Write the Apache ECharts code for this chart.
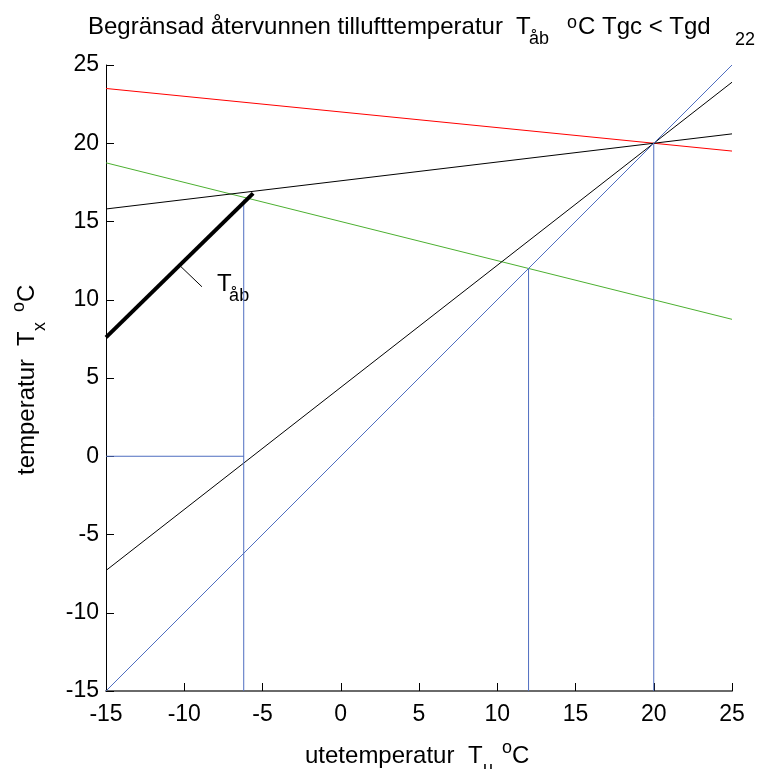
<!DOCTYPE html>
<html>
<head>
<meta charset="utf-8">
<script src="https://cdn.jsdelivr.net/npm/echarts@6/dist/echarts.min.js"></script>
<style>
  html, body { margin: 0; padding: 0; background: #fff; }
  #chart { width: 760px; height: 769px; }
</style>
</head>
<body>
<div id="chart"></div>
<script>
// Axis ranges (°C)
const xRange = [-15, 25];
const yRange = [-15, 25];
const tickStep = 5;

// Temperature lines as [Tu, Tx] end points
const redLine = [[-15, 23.5], [25, 19.5]];
const greenLine = [[-15, 18.75], [25, 8.75]];
const blackFlatLine = [[-15, 15.8], [25, 20.6]];
const blackSteepLine = [[-15, -7.3], [25, 23.9]];
const blueDiagonal = [[-15, -15], [25, 25]];
// Limited recovered supply air temperature T_åb
const tabLine = [[-15, 7.6], [-5.6, 16.8]];
// Blue guide lines
const guideVertA = [[-6.2, -15], [-6.2, 16.4]];
const guideHorizA = [[-15, 0], [-6.2, 0]];
const guideVert12 = [[12, -15], [12, 12]];
const guideVert20 = [[20, -15], [20, 20]];
// Leader from the T_åb line to its label
const leaderLine = [[-10.27, 12.17], [-8.87, 10.83]];
const tabLabelAnchor = [-7.9, 10.64];

const FONT = '"Liberation Sans", Arial, sans-serif';
const BLUE = '#4f6ec0';

function lineSeries(data, color, width, z) {
  return {
    type: 'line',
    data: data,
    showSymbol: false,
    symbol: 'none',
    lineStyle: { color: color, width: width },
    z: z || 2,
    silent: true,
    animation: false
  };
}

// Text placed by its alphabetic baseline
function txt(str, x, baseline, size) {
  return {
    type: 'text',
    x: x,
    y: baseline - 0.23 * size,
    style: {
      text: str,
      font: size + 'px ' + FONT,
      fill: '#000',
      textAlign: 'left',
      textVerticalAlign: 'middle',
      verticalAlign: 'middle'
    },
    silent: true
  };
}

const chart = echarts.init(document.getElementById('chart'), null, { renderer: 'canvas' });

const axisCommon = {
  type: 'value',
  interval: tickStep,
  axisTick: { show: true, inside: true, length: 8, lineStyle: { color: '#000', width: 1 } },
  splitLine: { show: false },
  axisLabel: { color: '#000', fontSize: 23, fontFamily: FONT }
};

chart.setOption({
  animation: false,
  backgroundColor: '#fff',
  grid: { left: 106, right: 28, top: 65, bottom: 78, containLabel: false },
  xAxis: Object.assign({}, axisCommon, {
    min: xRange[0], max: xRange[1],
    axisLine: { show: true, onZero: false, lineStyle: { color: '#6a6a6a', width: 2 } },
    axisLabel: Object.assign({}, axisCommon.axisLabel, { margin: 12 })
  }),
  yAxis: Object.assign({}, axisCommon, {
    min: yRange[0], max: yRange[1],
    axisLine: { show: true, onZero: false, lineStyle: { color: '#000', width: 1 } },
    axisLabel: Object.assign({}, axisCommon.axisLabel, { margin: 7 })
  }),
  series: [
    lineSeries(redLine, '#ff0000', 1),
    lineSeries(greenLine, '#4cb030', 1),
    lineSeries(blackFlatLine, '#000', 1),
    lineSeries(blackSteepLine, '#000', 1),
    lineSeries(blueDiagonal, BLUE, 1),
    lineSeries(guideVertA, BLUE, 1),
    lineSeries(guideHorizA, BLUE, 1),
    lineSeries(guideVert12, BLUE, 1),
    lineSeries(guideVert20, BLUE, 1),
    lineSeries(leaderLine, '#000', 1, 4),
    lineSeries(tabLine, '#000', 4, 5)
  ]
});

// Label position for T_åb comes from the grid's own scales
const anchor = chart.convertToPixel({ gridIndex: 0 }, tabLabelAnchor);

chart.setOption({
  graphic: [
    // Title
    txt('Begränsad återvunnen tillufttemperatur', 88, 33, 24),
    txt('T', 516, 33, 24),
    txt('åb', 529, 43, 18),
    txt('o', 567, 27, 18),
    txt('C Tgc < Tgd', 578, 33, 24),
    txt('22', 735, 44, 18),
    // x axis name
    txt('utetemperatur', 305, 762, 24),
    txt('T', 468, 762, 24),
    txt('u', 483, 773, 18),
    txt('o', 502, 752, 18),
    txt('C', 512, 762, 24),
    // y axis name, rotated to read bottom-up
    {
      type: 'group',
      x: 33, y: 475,
      rotation: Math.PI / 2,
      children: [
        txt('temperatur', 0, 0, 24),
        txt('T', 129, 0, 24),
        txt('x', 144, 11, 18),
        txt('o', 163, -10, 18),
        txt('C', 173, 0, 24)
      ]
    },
    // T_åb label next to the leader line
    txt('T', anchor[0], anchor[1], 24),
    txt('åb', anchor[0] + 12, anchor[1] + 10, 18)
  ]
});
</script>
</body>
</html>
